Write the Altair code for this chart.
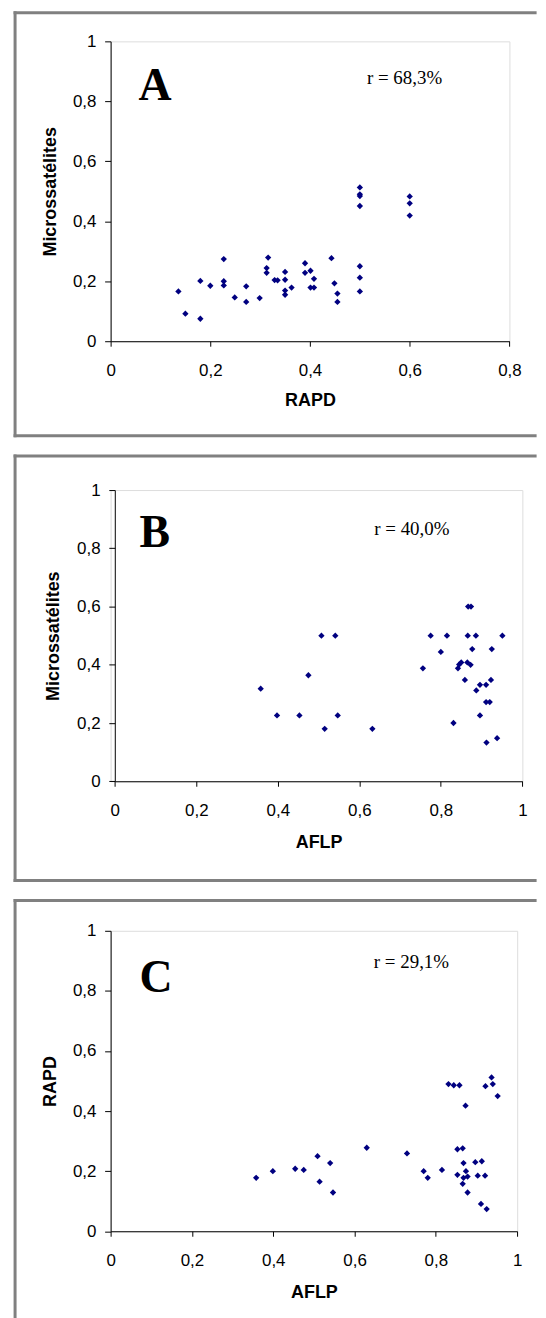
import altair as alt
import pandas as pd

# ---------------- data ----------------
a_rapd = [0.136, 0.150, 0.180, 0.180, 0.200, 0.227, 0.227, 0.227, 0.249, 0.272,
          0.272, 0.299, 0.313, 0.313, 0.316, 0.329, 0.335, 0.350, 0.350, 0.350,
          0.350, 0.363, 0.390, 0.390, 0.401, 0.401, 0.408, 0.408, 0.443, 0.449,
          0.455, 0.455, 0.500, 0.500, 0.500, 0.500, 0.500, 0.500, 0.500, 0.600,
          0.600, 0.600]
a_micro = [0.166, 0.092, 0.201, 0.075, 0.185, 0.274, 0.200, 0.186, 0.146, 0.183,
           0.131, 0.144, 0.244, 0.228, 0.279, 0.204, 0.203, 0.231, 0.205, 0.169,
           0.155, 0.179, 0.260, 0.228, 0.235, 0.179, 0.208, 0.179, 0.277, 0.193,
           0.159, 0.131, 0.513, 0.490, 0.484, 0.451, 0.250, 0.212, 0.166, 0.483,
           0.460, 0.419]

b_aflp = [0.358, 0.398, 0.453, 0.475, 0.507, 0.515, 0.541, 0.547, 0.632, 0.756,
          0.775, 0.800, 0.815, 0.831, 0.842, 0.845, 0.850, 0.865, 0.866, 0.867,
          0.874, 0.873, 0.859, 0.877, 0.886, 0.887, 0.896, 0.896, 0.911, 0.911,
          0.920, 0.912, 0.923, 0.925, 0.938, 0.951]
b_micro = [0.318, 0.226, 0.226, 0.364, 0.500, 0.180, 0.500, 0.226, 0.180, 0.388,
           0.500, 0.444, 0.500, 0.200, 0.388, 0.401, 0.408, 0.408, 0.500, 0.600,
           0.600, 0.400, 0.348, 0.454, 0.500, 0.312, 0.331, 0.226, 0.331, 0.272,
           0.272, 0.133, 0.348, 0.454, 0.148, 0.500]

c_aflp = [0.358, 0.399, 0.454, 0.475, 0.509, 0.540, 0.514, 0.547, 0.630, 0.729,
          0.770, 0.780, 0.815, 0.831, 0.844, 0.858, 0.873, 0.922, 0.937, 0.940,
          0.952, 0.853, 0.866, 0.868, 0.897, 0.913, 0.874, 0.853, 0.878, 0.868,
          0.903, 0.921, 0.866, 0.878, 0.911, 0.925]
c_rapd = [0.178, 0.200, 0.208, 0.204, 0.250, 0.227, 0.165, 0.129, 0.278, 0.259,
          0.200, 0.178, 0.204, 0.490, 0.486, 0.486, 0.418, 0.483, 0.512, 0.490,
          0.450, 0.273, 0.276, 0.227, 0.230, 0.233, 0.200, 0.188, 0.182, 0.178,
          0.185, 0.185, 0.158, 0.129, 0.091, 0.074]

ticks_a = [0, 0.2, 0.4, 0.6, 0.8]
ticks_1 = [0, 0.2, 0.4, 0.6, 0.8, 1.0]

panel_letters = ["A", "B", "C"]
r_texts = ["r = 68,3%", "r = 40,0%", "r = 29,1%"]
x_titles = ["RAPD", "AFLP", "AFLP"]
y_titles = ["Microssatélites", "Microssatélites", "RAPD"]

# ---------------- styling ----------------
NAVY = "#000080"
GRAY = "#808080"
SANS = "Liberation Sans"
SERIF = "Liberation Serif"
LABEL_EXPR = "replace(format(datum.value, '~g'), '.', ',')"
FRAME_L = -97.4      # left edge of the gray frame, relative to plot left
FRAME_R = 427.6      # right end of the gray frame lines
one = pd.DataFrame({"k": [0]})


def bar(x, x2, y, y2):
    return alt.Chart(one).mark_rect(color=GRAY).encode(
        x=alt.value(x), x2=alt.value(x2), y=alt.value(y), y2=alt.value(y2))


def txt(s, x, y, font, size, weight="normal"):
    return alt.Chart(one).mark_text(
        text=s, font=font, fontSize=size, fontWeight=weight, color="black",
        align="left", baseline="alphabetic").encode(x=alt.value(x), y=alt.value(y))


def panel(xs, ys, i, xmax, xticks, w, h, xr0, yoff, ytitle_x, xtitle_y,
          letter_xy, r_xy, frame_top, frame_bottom, bottom_bar=True):
    df = pd.DataFrame({"x": xs, "y": ys})
    xaxis = alt.Axis(
        values=xticks, labelExpr=LABEL_EXPR, title=x_titles[i], grid=False,
        domainColor="black", domainWidth=1, tickColor="black", tickSize=5,
        labelFont=SANS, labelFontSize=17, labelColor="black", labelPadding=29,
        labelBaseline="alphabetic", labelFlush=False, labelOverlap=False,
        titleFont=SANS, titleFontSize=18, titleFontWeight="bold",
        titleColor="black", titleX=(xr0 + w) / 2, titleY=xtitle_y,
        titleBaseline="alphabetic", titleAlign="center")
    yaxis = alt.Axis(
        values=ticks_1, labelExpr=LABEL_EXPR, title=y_titles[i], grid=False,
        domainColor="black", domainWidth=1, tickColor="black", tickSize=6,
        labelFont=SANS, labelFontSize=17, labelColor="black", labelPadding=8.7,
        labelBaseline="middle", labelOverlap=False, labelFlush=False,
        offset=yoff,
        titleFont=SANS, titleFontSize=18, titleFontWeight="bold",
        titleColor="black", titleX=ytitle_x, titleY=h / 2,
        titleBaseline="middle", titleAlign="center")
    xscale = alt.Scale(domain=[0, xmax], nice=False, zero=False)
    if xr0:
        xscale = alt.Scale(domain=[0, xmax], nice=False, zero=False, range=[xr0, w])
    pts = alt.Chart(df).mark_point(
        shape="diamond", filled=True, color=NAVY, size=40, opacity=1
    ).encode(
        x=alt.X("x:Q", scale=xscale, axis=xaxis),
        y=alt.Y("y:Q", scale=alt.Scale(domain=[0, 1], nice=False), axis=yaxis),
    )
    layers = [
        bar(FRAME_L, FRAME_R, frame_top, frame_top + 3),
        bar(FRAME_L, FRAME_L + 3, frame_top, frame_bottom),
    ]
    if bottom_bar:
        layers.append(bar(FRAME_L, FRAME_R, frame_bottom - 3, frame_bottom))
    layers += [
        pts,
        txt(panel_letters[i], letter_xy[0], letter_xy[1], SERIF, 46, "bold"),
        txt(r_texts[i], r_xy[0], r_xy[1], SERIF, 19),
    ]
    return alt.layer(*layers).properties(width=w, height=h)


pa = panel(a_rapd, a_micro, 0, 0.8, ticks_a, 400.3, 301, 0, 0, -60.5, 64.3,
           (27.9, 59), (257.3, 42.4), -30.3, 397.5)
pb = panel(b_aflp, b_micro, 1, 1.0, ticks_1, 413.3, 292.3, 4.2, -4.2, -61.5, 66.2,
           (29, 57), (264.6, 45.5), -35.8, 393.3)
pc = panel(c_aflp, c_rapd, 2, 1.0, ticks_1, 408.1, 301.6, 0, 0, -60.5, 66.2,
           (29, 61.5), (264.2, 37.3), -32, 389, bottom_bar=False)

chart = alt.vconcat(pa, pb, pc, spacing=15.4).properties(
    padding={"left": 5, "top": 0, "right": 0, "bottom": 0}
).configure_view(stroke=GRAY, strokeWidth=1).configure(background="white")

chart.save("out.html", embed_options={"renderer": "svg", "actions": False})
